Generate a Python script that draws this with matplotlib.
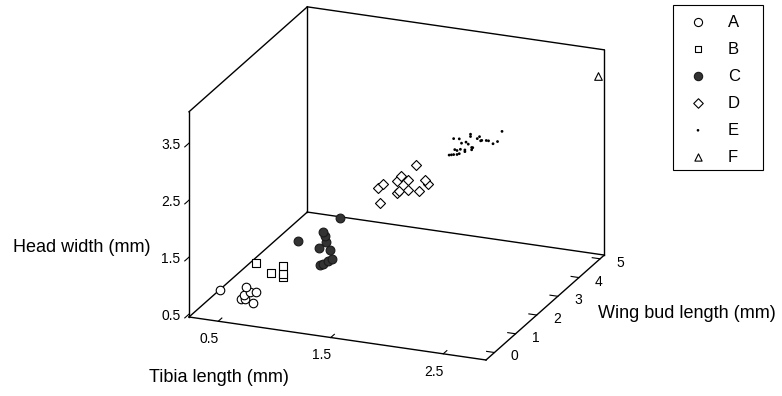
import numpy as np
import matplotlib
matplotlib.use('Agg')
import matplotlib.pyplot as plt
from matplotlib.patches import Rectangle
from mpl_toolkits.mplot3d import proj3d

plt.rcParams['font.family'] = ['Liberation Sans', 'DejaVu Sans']

# instar measurements: tibia length, wing bud length, head width (mm)
tibia_a = [0.44, 0.67, 0.71, 0.76, 0.63, 0.66, 0.73, 0.65]
wing_a = [0, 0, 0, 0, 0, 0, 0, 0]
head_a = [0.85, 0.97, 0.89, 0.90, 0.74, 0.75, 0.70, 0.82]

tibia_b = [0.72, 0.86, 0.96, 0.96, 0.96]
wing_b = [0.2, 0.2, 0.2, 0.2, 0.2]
head_b = [1.33, 1.21, 1.35, 1.21, 1.16]

tibia_c = [1.36, 0.98, 1.21, 1.22, 1.23, 1.17, 1.27, 1.18, 1.21, 1.25, 1.29]
wing_c = [0.8, 0.8, 0.8, 0.8, 0.8, 0.8, 0.8, 0.8, 0.8, 0.8, 0.8]
head_c = [2.12, 1.60, 1.82, 1.75, 1.65, 1.53, 1.52, 1.23, 1.26, 1.32, 1.37]

tibia_d = [1.81, 1.47, 1.51, 1.64, 1.67, 1.74, 1.64, 1.66, 1.74, 1.83, 1.89, 1.91, 1.49]
wing_d = [2.0, 2.0, 2.0, 2.0, 2.0, 2.0, 2.0, 2.0, 2.0, 2.0, 2.0, 2.0, 2.0]
head_d = [2.78, 2.28, 2.35, 2.44, 2.55, 2.50, 2.23, 2.27, 2.31, 2.33, 2.54, 2.48, 2.01]

tibia_e = [1.82, 1.84, 1.86, 1.89, 1.91, 1.87, 1.92, 1.96, 1.86, 1.91, 1.93, 1.97, 1.99, 2.01, 2.01,
           2.02, 2.03, 2.02, 2.07, 2.09, 2.10, 2.11, 2.15, 2.17, 2.21, 2.25, 2.29, 1.96, 1.89]
wing_e = [3.5, 3.5, 3.5, 3.5, 3.5, 3.5, 3.5, 3.5, 3.5, 3.5, 3.5, 3.5, 3.5, 3.5, 3.5,
          3.5, 3.5, 3.5, 3.5, 3.5, 3.5, 3.5, 3.5, 3.5, 3.5, 3.5, 3.5, 3.5, 3.5]
head_e = [2.46, 2.47, 2.48, 2.49, 2.51, 2.57, 2.59, 2.59, 2.76, 2.77, 2.70, 2.73, 2.70, 2.88, 2.84,
          2.65, 2.65, 2.61, 2.82, 2.86, 2.79, 2.80, 2.81, 2.81, 2.77, 2.82, 3.01, 2.56, 2.56]

tibia_f = [2.86]
wing_f = [5.0]
head_f = [3.65]

xlim = (0.24, 2.88)
ylim = (-0.4, 5.2)
zlim = (0.45, 4.05)
xticks = [0.5, 1.5, 2.5]
yticks = [0, 1, 2, 3, 4, 5]
zticks = [0.5, 1.5, 2.5, 3.5]

W, H = 782, 396
fig = plt.figure(figsize=(W / 100, H / 100), dpi=100)
ax = fig.add_axes([0.05, 0.05, 0.6, 0.9], projection='3d')
ax.set_proj_type('ortho')
ax.view_init(elev=21, azim=-68)
ax.set_box_aspect((320, 315.5, 219.6))
ax.set_xlim(*xlim)
ax.set_ylim(*ylim)
ax.set_zlim(*zlim)

sa = ax.scatter(tibia_a, wing_a, head_a, marker='o', s=38, facecolors='white', edgecolors='black',
                linewidths=0.8, depthshade=False, label='A')
sb = ax.scatter(tibia_b, wing_b, head_b, marker='s', s=26, facecolors='white', edgecolors='black',
                linewidths=0.8, depthshade=False, label='B')
sc = ax.scatter(tibia_c, wing_c, head_c, marker='o', s=40, facecolors='#333333', edgecolors='#1a1a1a',
                linewidths=0.8, depthshade=False, label='C')
sd = ax.scatter(tibia_d, wing_d, head_d, marker='D', s=26, facecolors='white', edgecolors='black',
                linewidths=0.8, depthshade=False, label='D')
se = ax.scatter(tibia_e, wing_e, head_e, marker='o', s=4, facecolors='black', edgecolors='none',
                depthshade=False, label='E')
sf = ax.scatter(tibia_f, wing_f, head_f, marker='^', s=30, facecolors='white', edgecolors='black',
                linewidths=0.8, depthshade=False, label='F')

# box outline: floor, left wall and back wall
x0, x1 = xlim
y0, y1 = ylim
z0, z1 = zlim
edges = [
    ((x0, x1), (y0, y0), (z0, z0)),
    ((x1, x1), (y0, y1), (z0, z0)),
    ((x0, x1), (y1, y1), (z0, z0)),
    ((x0, x0), (y0, y1), (z0, z0)),
    ((x0, x0), (y0, y0), (z0, z1)),
    ((x0, x0), (y1, y1), (z0, z1)),
    ((x1, x1), (y1, y1), (z0, z1)),
    ((x0, x0), (y0, y1), (z1, z1)),
    ((x0, x1), (y1, y1), (z1, z1)),
]
for ex, ey, ez in edges:
    ax.plot(ex, ey, ez, color='black', lw=1.0)

# head width ticks on the front left edge, pointing towards the viewer
for t in zticks:
    ax.plot((x0, x0), (y0, y0 - 0.2), (t, t), color='black', lw=0.8)

for axis, out in ((ax.xaxis, 0.38), (ax.yaxis, 0.33), (ax.zaxis, 0.0)):
    axis.set_pane_color((1, 1, 1, 0))
    axis.pane.set_edgecolor('none')
    axis.line.set_color('none')
    axis._axinfo['tick']['inward_factor'] = 0.0
    axis._axinfo['tick']['outward_factor'] = out
ax.grid(False)
ax.set_xticks(xticks)
ax.set_yticks(yticks)
ax.set_zticks([])
ax.set_xticklabels([])
ax.set_yticklabels([])


def to_px(x, y, z):
    xs, ys, _ = proj3d.proj_transform(x, y, z, ax.M)
    return np.array(ax.transData.transform((xs, ys)))


# size and place the axes so the box front corner and front edge land where wanted
origin_target = np.array([189.0, H - 317.0])
edge_len = np.hypot(297, 43)
for _ in range(2):
    fig.canvas.draw()
    p0 = to_px(x0, y0, z0)
    p1 = to_px(x1, y0, z0)
    bb = ax.get_position()
    side = bb.width * W
    c = np.array([bb.x0 * W + side / 2, bb.y0 * H + side / 2])
    new_side = side * edge_len / np.hypot(*(p1 - p0))
    f0 = (p0 - c) / side
    nc = origin_target - new_side * f0
    ax.set_position([(nc[0] - new_side / 2) / W, (nc[1] - new_side / 2) / H, new_side / W, new_side / H])
fig.canvas.draw()

# tick labels, offset in pixels from the tick's spot on the box edge
tick_fs = 10
base = 0.716 * tick_fs * 100 / 72 / 2


def tick_label(pos, text, dx, dy):
    px, py = to_px(*pos)
    fig.text((px + dx) / W, (py - dy - base) / H, text, fontsize=tick_fs, ha='center', va='baseline')


for t in xticks:
    tick_label((t, y0, z0), f'{t:g}', -9, 17)
for t in yticks:
    tick_label((x1, t, z0), f'{t:g}', 20, 3)
for t in zticks:
    tick_label((x0, y0, t), f'{t:g}', -18, 0.5)

fig.text(219 / W, 1 - 377 / H, 'Tibia length (mm)', fontsize=13, ha='center', va='center')
fig.text(82 / W, 1 - 247 / H, 'Head width (mm)', fontsize=13, ha='center', va='center')
fig.text(687 / W, 1 - 314 / H, 'Wing bud length (mm)', fontsize=13, ha='center', va='center')

fig.legend(handles=[sa, sb, sc, sd, se, sf], labels=['A', 'B', 'C', 'D', 'E', 'F'],
           loc='upper left', bbox_to_anchor=(673 / W, 1 - 5 / H), frameon=False, fontsize=12,
           borderpad=0.58, labelspacing=0.72, handlelength=1.84, handletextpad=0.88,
           scatterpoints=1, borderaxespad=0, markerscale=0.95)
fig.patches.append(Rectangle((673 / W, 1 - 170 / H), 90 / W, 165 / H, transform=fig.transFigure,
                             fill=False, lw=0.8, ec='black'))

fig.savefig('out.png', dpi=100)
